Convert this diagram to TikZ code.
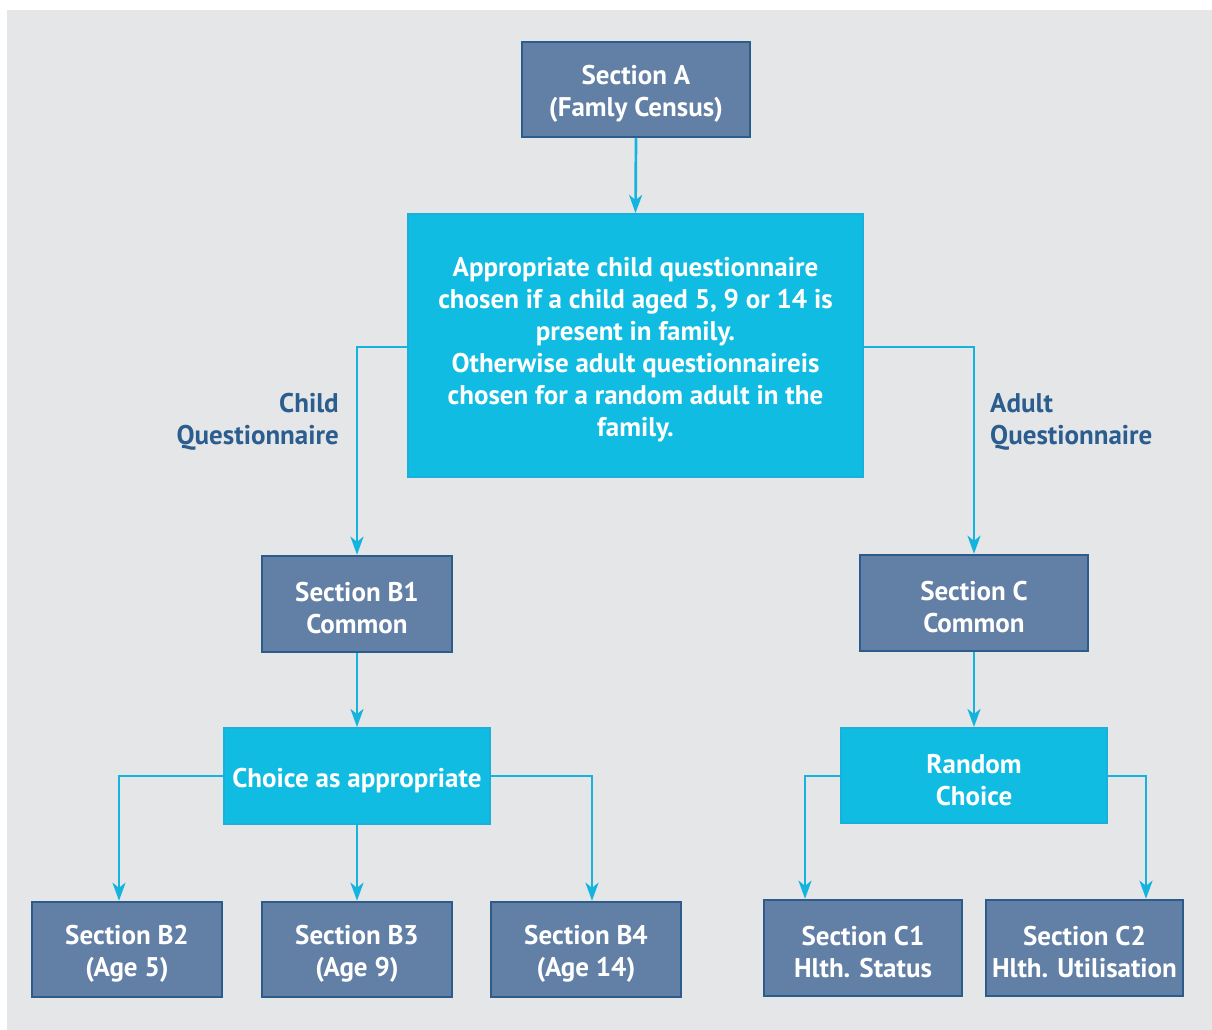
\documentclass[tikz,border=0pt]{standalone}
\usepackage{fontspec}
\setmainfont{PT Sans}
\usetikzlibrary{arrows.meta}
\definecolor{bgc}{HTML}{E5E6E8}
\definecolor{slate}{HTML}{627FA6}
\definecolor{slateb}{HTML}{2C5C8C}
\definecolor{cyanf}{HTML}{10BCE2}
\definecolor{cyanb}{HTML}{1AB0DC}
\definecolor{linec}{HTML}{14B4DE}
\definecolor{lblc}{HTML}{2B5D8E}
\begin{document}
\begin{tikzpicture}[x=1pt,y=-1pt,
  txt/.style={font=\fontsize{27}{32}\selectfont\bfseries, text=white, align=center, inner sep=0pt},
  darkbox/.style={fill=slate, draw=slateb, line width=2.5pt, inner sep=0pt},
  cyanbox/.style={fill=cyanf, draw=cyanb, line width=2pt, inner sep=0pt},
  btext/.style={label={[txt,yshift=-4.5pt]center:{#1}}},
  lbl/.style={font=\fontsize{27}{32}\selectfont\bfseries, text=lblc, inner sep=0pt},
  conn/.style={draw=linec, line width=2.7pt, -{Stealth[length=18pt,width=13pt,inset=5pt]}}
]
\useasboundingbox (0,0) rectangle (1212,1030);
\fill[bgc] (7,10) rectangle (1212,1030);

\node[darkbox, minimum width=228pt, minimum height=95pt, btext={Section A\\(Famly Census)}] (A) at (636,89.5) {};
\node[cyanbox, minimum width=455pt, minimum height=263pt, btext={Appropriate child questionnaire\\chosen if a child aged 5, 9 or 14 is\\present in family.\\Otherwise adult questionnaireis\\chosen for a random adult in the\\family.}] (Q) at (635.5,345.5) {};

\node[darkbox, minimum width=190pt, minimum height=96pt, btext={Section B1\\Common}] (B1) at (357,604) {};
\node[cyanbox, minimum width=266pt, minimum height=96pt, btext={Choice as appropriate}] (CH) at (357,776) {};
\node[darkbox, minimum width=190pt, minimum height=95pt, btext={Section B2\\(Age 5)}] (B2) at (127,949.5) {};
\node[darkbox, minimum width=190pt, minimum height=95pt, btext={Section B3\\(Age 9)}] (B3) at (357,949.5) {};
\node[darkbox, minimum width=190pt, minimum height=95pt, btext={Section B4\\(Age 14)}] (B4) at (586,949.5) {};

\node[darkbox, minimum width=228pt, minimum height=96pt, btext={Section C\\Common}] (C) at (974,603) {};
\node[cyanbox, minimum width=266pt, minimum height=95pt, btext={Random\\Choice}] (RC) at (974,775.5) {};
\node[darkbox, minimum width=198pt, minimum height=96pt, btext={Section C1\\Hlth. Status}] (C1) at (863,948) {};
\node[darkbox, minimum width=197pt, minimum height=96pt, btext={Section C2\\Hlth. Utilisation}] (C2) at (1084.5,948) {};

\node[lbl, align=right, anchor=east] (lc) at (339,422) {Child\\Questionnaire};
\node[lbl, align=left, anchor=west] (la) at (990,422) {Adult\\Questionnaire};

\coordinate (ql) at (Q.west |- 0,347);
\coordinate (qr) at (Q.east |- 0,347);
\coordinate (chl) at (CH.west |- 0,776);
\coordinate (chr) at (CH.east |- 0,776);
\coordinate (rcl) at (RC.west |- 0,776);
\coordinate (rcr) at (RC.east |- 0,776);

\draw[conn] (A.south) -- (Q.north);
\draw[conn] (ql) -| (B1.north);
\draw[conn] (qr) -| (C.north);
\draw[conn] (B1.south) -- (CH.north);
\draw[conn] (chl) -| ([xshift=-8pt]B2.north);
\draw[conn] (CH.south) -- (B3.north);
\draw[conn] (chr) -| ([xshift=6pt]B4.north);
\draw[conn] (C.south) -- (RC.north);
\draw[conn] (rcl) -| ([xshift=-58pt]C1.north);
\draw[conn] (rcr) -| ([xshift=61.5pt]C2.north);
\end{tikzpicture}
\end{document}
